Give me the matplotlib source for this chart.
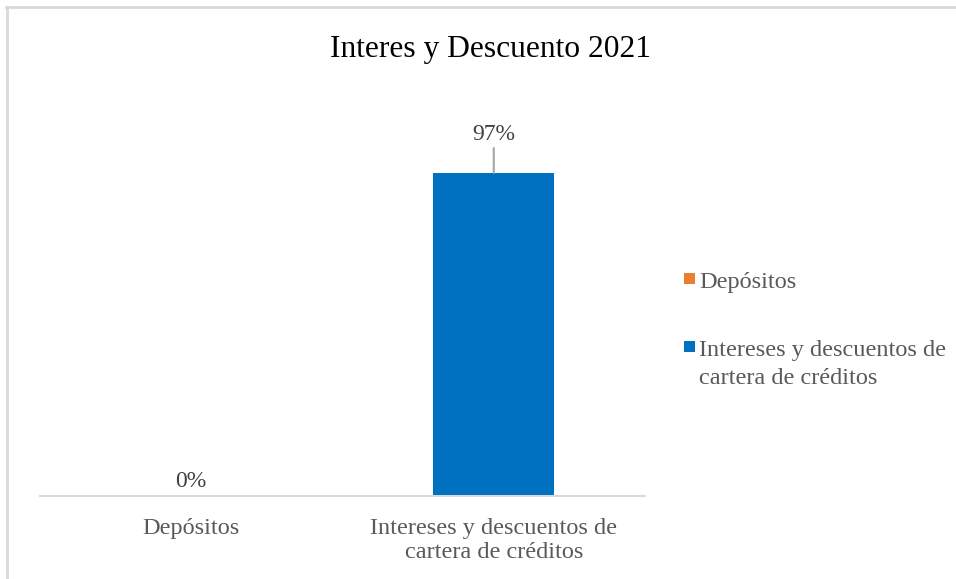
import matplotlib
matplotlib.use("Agg")
import matplotlib.pyplot as plt
from matplotlib.patches import Rectangle
from matplotlib.lines import Line2D

plt.rcParams['font.family'] = ['Liberation Serif', 'DejaVu Serif']

# data
categorias = ["Depósitos", "Intereses y descuentos de\ncartera de créditos"]
valores = [0.0, 0.97]
colores = ["#ED7D31", "#0070C0"]
titulo = "Interes y Descuento 2021"

W, H = 956, 579
fig = plt.figure(figsize=(W / 100, H / 100), dpi=100)

# light frame along the top and left edges of the chart area
fig.lines.append(Line2D([6 / W, 1.0], [1 - 7 / H, 1 - 7 / H], transform=fig.transFigure,
                        color="#D9D9D9", linewidth=2))
fig.lines.append(Line2D([7 / W, 7 / W], [0, 1 - 7 / H], transform=fig.transFigure,
                        color="#D9D9D9", linewidth=2))

ax = fig.add_axes([40 / W, 83 / H, 605 / W, 333 / H])
x = range(len(categorias))
bars = ax.bar(x, valores, width=0.4, color=colores)
ax.set_xlim(-0.5, len(categorias) - 0.5)
ax.set_ylim(0, 1.0)
ax.set_xticks(list(x))
ax.set_xticklabels(categorias, fontsize=17.5, color="#595959", linespacing=1.17)
ax.tick_params(axis="x", length=0, pad=16)
ax.set_yticks([])
for s in ["top", "right", "left"]:
    ax.spines[s].set_visible(False)
ax.spines["bottom"].set_color("#D9D9D9")
ax.spines["bottom"].set_linewidth(1.5)

# data labels, with a leader line when the label sits away from the bar
for i, v in enumerate(valores):
    if v > 0:
        ax.annotate(f"{v:.0%}", xy=(i, v), xytext=(0, 27.5), textcoords="offset points",
                    ha="center", va="center", fontsize=17, color="#404040",
                    arrowprops=dict(arrowstyle="-", color="#A6A6A6", lw=1.5,
                                    shrinkA=0, shrinkB=0))
    else:
        ax.annotate(f"{v:.0%}", xy=(i, v), xytext=(0, 10.5), textcoords="offset points",
                    ha="center", va="center", fontsize=17, color="#404040")

fig.text(490 / W, 1 - 49 / H, titulo, ha="center", va="center", fontsize=22.7, color="black")

# legend drawn to the right of the plot
ley_y = [279, 347]
for b, lab, yy in zip(bars, categorias, ley_y):
    fig.patches.append(Rectangle((684 / W, 1 - (yy + 5) / H), 11 / W, 11 / H,
                                 transform=fig.transFigure,
                                 facecolor=b.get_facecolor(), edgecolor="none"))
    fig.text(699 / W, 1 - (yy - 7) / H, lab, ha="left", va="top", fontsize=17.5,
             color="#595959", linespacing=1.45)

fig.savefig("out.png", dpi=100, facecolor="white")
